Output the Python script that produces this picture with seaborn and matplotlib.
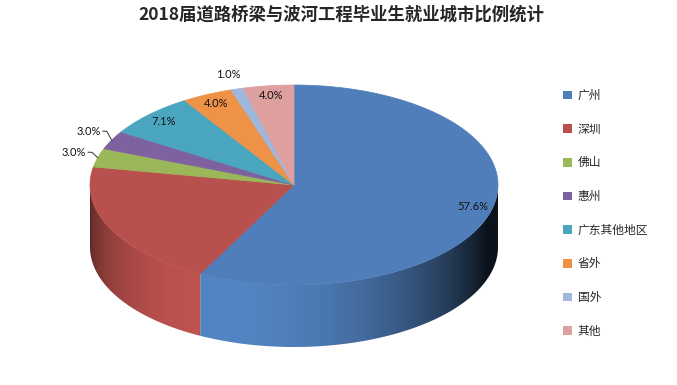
import matplotlib
matplotlib.use("Agg")
import matplotlib.pyplot as plt
import numpy as np
import seaborn as sns
from matplotlib.patches import Polygon, Patch

# data
categories = ["广州", "深圳", "佛山", "惠州", "广东其他地区", "省外", "国外", "其他"]
shares = [57.6, 20.3, 3.0, 3.0, 7.1, 4.0, 1.0, 4.0]
show_label = [True, False, True, True, True, True, True, True]
colors = ["#4F7EBA", "#B8504D", "#9AB85A", "#7E62A0", "#4AA6BF", "#EE9248", "#9FB6DD", "#DDA09F"]
title = "2018届道路桥梁与波河工程毕业生就业城市比例统计"

sns.set_theme(style="white")
plt.rcParams['font.family'] = ['Noto Sans CJK SC', 'DejaVu Sans']

fig = plt.figure(figsize=(6.77, 3.85), dpi=100)
ax = fig.add_axes([0, 0, 1, 1])
ax.set_xlim(0, 677)
ax.set_ylim(385, 0)
ax.axis('off')

# pie geometry (pixels)
cx, cy, a, b, depth = 294, 185, 204, 100, 62

vals = np.array(shares) / sum(shares)
cum = np.concatenate([[0], np.cumsum(vals)])
start = 90 - 360 * cum[:-1]
end = 90 - 360 * cum[1:]


def pt(t, r=1.0):
    t = np.radians(t)
    return cx + a * r * np.cos(t), cy - b * r * np.sin(t)


def shade(t):
    return 0.15 + 0.9 * np.clip(np.cos(np.radians(t - 250)), 0, None)


# side of the cylinder: one polygon per slice, filled with a gradient
for i in range(len(vals)):
    lo, hi = end[i] % 360, end[i] % 360 + (start[i] - end[i])
    # visible front half is 180..360
    t0, t1 = max(lo, 180), min(hi, 360)
    if lo < 180 and hi > 540:
        t0, t1 = 180, 360
    if t1 <= t0:
        # try wrapped range
        lo2, hi2 = lo - 360, hi - 360
        t0, t1 = max(lo2, 180), min(hi2, 360)
        if t1 <= t0:
            continue
    ts = np.linspace(t0, t1, 200)
    xs, ys = pt(ts)
    verts = list(zip(xs, ys)) + list(zip(xs[::-1], ys[::-1] + depth))
    poly = Polygon(verts, closed=True, facecolor='none', edgecolor='none')
    ax.add_patch(poly)
    gx = np.linspace(xs.min(), xs.max(), 300)
    tt = 360 - np.degrees(np.arccos(np.clip((gx - cx) / a, -1, 1)))
    base = np.array(matplotlib.colors.to_rgb(colors[i]))
    img = np.clip(base[None, :] * shade(tt)[:, None], 0, 1)[None, :, :]
    im = ax.imshow(img, extent=[xs.min(), xs.max(), ys.max() + depth, ys.min()],
                   aspect='auto', interpolation='bilinear', zorder=1)
    im.set_clip_path(poly)

# top face
for i in range(len(vals)):
    ts = np.linspace(start[i], end[i], max(int(abs(start[i] - end[i]) * 2), 4))
    xs, ys = pt(ts)
    verts = [(cx, cy)] + list(zip(xs, ys))
    ax.add_patch(Polygon(verts, closed=True, facecolor=colors[i],
                         edgecolor=colors[i], linewidth=0.5, zorder=2))

ax.set_xlim(0, 677)
ax.set_ylim(385, 0)

# labels
lab_font = dict(fontsize=8, family=['Lato', 'DejaVu Sans'], color='#111111', zorder=3)
for i in range(len(vals)):
    if not show_label[i]:
        continue
    mid = (start[i] + end[i]) / 2
    txt = f"{shares[i]:.1f}%"
    if shares[i] >= 4:
        x, y = pt(mid, 0.9)
        ax.text(x, y, txt, ha='center', va='center', **lab_font)
    elif shares[i] < 2:
        x, y = pt(mid, 1.15)
        ax.text(x, y, txt, ha='center', va='center', **lab_font)
    else:
        ex, ey = pt(mid, 1.0)
        tx = cx + a * 1.06 * np.cos(np.radians(mid))
        ty = cy - b * 1.2 * np.sin(np.radians(mid))
        ax.text(tx, ty, txt, ha='right', va='center', **lab_font)
        ax.plot([tx + 2, tx + 6, ex], [ty, ty, ey], color='#333333', linewidth=0.7, zorder=3)

# legend
handles = [Patch(facecolor=c, edgecolor='none') for c in colors]
ax.legend(handles, categories, loc='upper left', bbox_to_anchor=(563 / 677, 1 - 89 / 385),
          frameon=False, fontsize=8.5, labelspacing=1.75, handlelength=0.75,
          handleheight=0.75, handletextpad=0.5, borderpad=0, borderaxespad=0)

fig.text(0.504, 1 - 15 / 385, title, ha='center', va='center', fontsize=12.5, fontweight='bold')

fig.savefig("out.png", dpi=100)
